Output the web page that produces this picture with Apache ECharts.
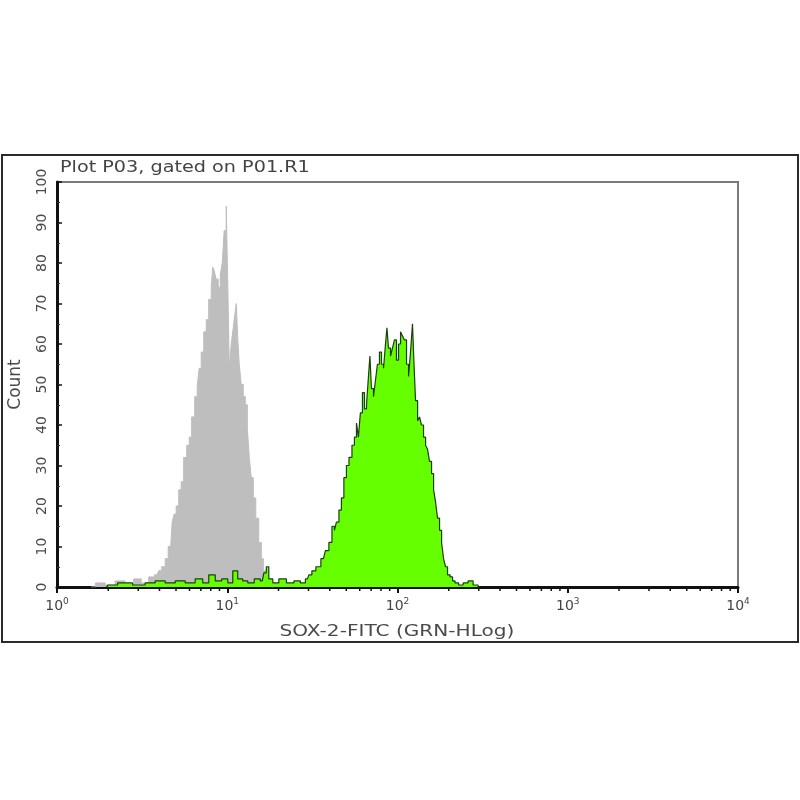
<!DOCTYPE html>
<html>
<head>
<meta charset="utf-8">
<script src="https://cdn.jsdelivr.net/npm/echarts@6/dist/echarts.min.js"></script>
<style>
  html, body { margin: 0; padding: 0; background: #fff; }
  #chart { width: 800px; height: 800px; }
</style>
</head>
<body>
<div id="chart"></div>
<script>
// channel position in decades (log10 of intensity) and counts
const grayLog = [0.20, 0.253, 0.312, 0.371, 0.429, 0.471, 0.518, 0.559, 0.588, 0.606, 0.624, 0.647, 0.659, 0.671,
  0.682, 0.694, 0.706, 0.724, 0.735, 0.753, 0.771, 0.782, 0.800, 0.818, 0.829, 0.841, 0.853, 0.871, 0.882,
  0.900, 0.912, 0.918, 0.929, 0.941, 0.953, 0.965, 0.976, 0.988, 1.000, 1.006, 1.018, 1.029, 1.041, 1.047,
  1.059, 1.065, 1.076, 1.088, 1.100, 1.112, 1.124, 1.135, 1.147, 1.159, 1.176, 1.194, 1.206, 1.218, 1.235,
  1.253, 1.27];
const grayCount = [0, 1, 0.5, 1.5, 0.5, 2, 1, 2.5, 3, 4, 5, 7, 10, 8,
  16, 18, 20, 24, 26, 32, 35, 37, 42, 47, 49.5, 54, 58, 63, 66,
  71, 74, 79, 78, 76, 74, 77, 80, 88, 94, 75, 54, 60, 64, 67,
  70, 61, 55, 50, 47, 45, 39, 32, 27, 22, 17, 11, 7, 4, 2.5,
  1, 0];

const greenLog = [0.29, 0.312, 0.400, 0.488, 0.547, 0.606, 0.665, 0.724, 0.782, 0.841, 0.871, 0.912, 0.947,
  0.988, 1.018, 1.047, 1.076, 1.106, 1.135, 1.182, 1.206, 1.224, 1.235, 1.253, 1.282, 1.324, 1.371, 1.412,
  1.447, 1.471, 1.488, 1.506, 1.535, 1.565, 1.588, 1.606, 1.624, 1.635, 1.647, 1.665, 1.676, 1.694, 1.706,
  1.724, 1.741, 1.753, 1.765, 1.776, 1.788, 1.800, 1.812, 1.824, 1.835, 1.841, 1.853, 1.865, 1.876, 1.888,
  1.900, 1.912, 1.924, 1.935, 1.941, 1.953, 1.965, 1.976, 1.988, 2.000, 2.012, 2.024, 2.035, 2.047, 2.059,
  2.071, 2.082, 2.094, 2.100, 2.112, 2.124, 2.135, 2.147, 2.159, 2.171, 2.182, 2.194, 2.206, 2.218, 2.229,
  2.241, 2.253, 2.265, 2.276, 2.288, 2.300, 2.318, 2.329, 2.347, 2.371, 2.400, 2.429, 2.459, 2.488];
const greenCount = [0, 0.5, 1, 0.5, 1, 1.5, 1, 1.5, 1, 2, 1, 3, 1.5,
  2, 1, 4, 2, 1.5, 1, 2, 1.5, 3.5, 5, 2, 1, 2, 1, 1.5,
  1, 2, 3, 4, 5, 7, 9, 11, 15, 14, 16, 19, 22, 27, 30,
  32, 35, 37, 40.5, 37, 43, 48, 44, 45, 52, 57, 49, 47, 51, 55,
  58, 55, 54, 60, 64, 59, 57, 59, 61, 56, 60, 63, 62, 61, 55,
  52, 58, 65, 55, 46, 41, 42, 40, 37, 35, 34, 31, 28, 24, 21,
  17, 14, 11, 7, 5, 3, 2.5, 1.5, 1, 0.5, 1, 1.5, 0.5, 0];

const xDecades = [0, 1, 2, 3, 4];
const minorMult = [2, 3, 4, 5, 6, 7, 8, 9];

const grayData = grayLog.map((x, i) => [x, grayCount[i]]);
const greenData = greenLog.map((x, i) => [x, greenCount[i]]);
const minorTicks = [];
xDecades.slice(0, -1).forEach(d => {
  minorMult.forEach(k => minorTicks.push([d + Math.log10(k), 0]));
});

const font = 'DejaVu Sans';
const chart = echarts.init(document.getElementById('chart'));
chart.setOption({
  animation: false,
  backgroundColor: '#fff',
  grid: { left: 57, right: 62, top: 182, bottom: 213, outerBoundsMode: 'none', containLabel: false,
    show: true, borderColor: '#7a7a7a', borderWidth: 2 },
  graphic: [
    { type: 'rect', shape: { x: 2, y: 155, width: 796, height: 487 },
      style: { fill: null, stroke: '#2a2a2a', lineWidth: 2 }, silent: true, z: -1 },
    // the source picture is stretched sideways, so the texts get a scaleX
    { type: 'text', x: 60, y: 168, scaleX: 1.28,
      style: { text: 'Plot P03, gated on P01.R1', font: '15px "DejaVu Sans"', fill: '#444',
        align: 'left', verticalAlign: 'middle' } },
    { type: 'text', x: 397, y: 632, scaleX: 1.34,
      style: { text: 'SOX-2-FITC (GRN-HLog)', font: '15px "DejaVu Sans"', fill: '#4a4a4a',
        align: 'center', verticalAlign: 'middle' } }
  ],
  xAxis: {
    type: 'value', min: 0, max: 4, interval: 1,
    axisLine: { lineStyle: { color: '#111', width: 3 } },
    axisTick: { length: 6, lineStyle: { color: '#111', width: 2 } },
    splitLine: { show: false },
    axisLabel: {
      margin: 10,
      formatter: v => '{b|10}{s|' + v + '}',
      rich: {
        b: { fontFamily: font, fontSize: 14, color: '#444', lineHeight: 18 },
        s: { fontFamily: font, fontSize: 9, color: '#444', verticalAlign: 'top', lineHeight: 18 }
      }
    }
  },
  yAxis: {
    type: 'value', min: 0, max: 100, interval: 10,
    name: 'Count', nameLocation: 'middle', nameGap: 33,
    nameTextStyle: { fontFamily: font, fontSize: 17, color: '#4a4a4a' },
    axisLine: { lineStyle: { color: '#111', width: 3 } },
    axisTick: { inside: true, length: 5, lineStyle: { color: '#111', width: 1.5 } },
    minorTick: { show: true, splitNumber: 2, length: 3, lineStyle: { color: '#333' } },
    splitLine: { show: false },
    axisLabel: { rotate: 90, margin: 8, fontFamily: font, fontSize: 14, color: '#4a4a4a' }
  },
  series: [
    {
      type: 'line', data: grayData, step: 'middle', symbol: 'none',
      lineStyle: { color: '#bdbdbd', width: 1 },
      areaStyle: { color: '#bebebe', opacity: 1 }, z: 2
    },
    {
      type: 'line', data: greenData, step: 'middle', symbol: 'none',
      lineStyle: { color: '#1c3f10', width: 1.2 },
      areaStyle: { color: '#66ff00', opacity: 1 }, z: 3
    },
    {
      type: 'custom', data: minorTicks, clip: false, silent: true, z: 5,
      renderItem: (params, api) => {
        const p = api.coord([api.value(0), 0]);
        return { type: 'line', shape: { x1: p[0], y1: p[1], x2: p[0], y2: p[1] + 4 },
          style: { stroke: '#111', lineWidth: 1.5 } };
      }
    }
  ]
});
</script>
</body>
</html>
